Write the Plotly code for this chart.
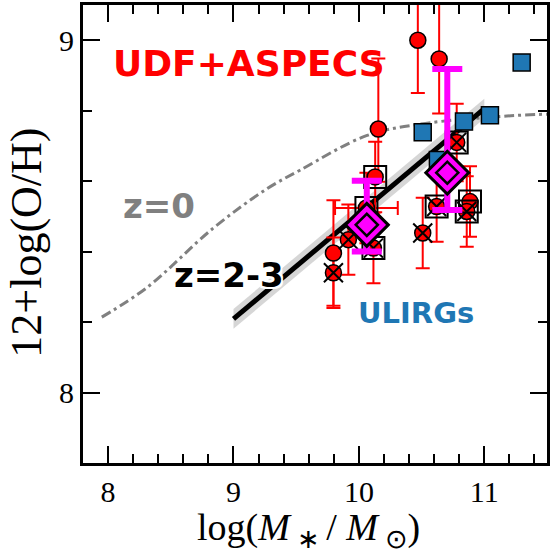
import plotly.graph_objects as go

# ---------------- data ----------------
# red UDF+ASPECS galaxies
red_x = [10.47, 10.64, 10.155, 9.797, 10.13, 10.06, 10.886, 9.916, 9.797, 10.509, 10.116, 10.78, 10.62, 10.86]
red_y = [9.00, 8.947, 8.748, 8.396, 8.612, 8.524, 8.542, 8.434, 8.340, 8.453, 8.410, 8.710, 8.528, 8.514]
red_err_up = [0.16, 0.16, 0.20, 0.15, 0.10, 0.10, 0.10, 0.10, 0.10, 0.10, 0.10, 0.11, 0.10, 0.10]
red_err_lo = [0.15, 0.155, 0.15, 0.15, 0.10, 0.10, 0.10, 0.10, 0.10, 0.10, 0.10, 0.11, 0.10, 0.10]
red_xerr = [0, 0, 0, 0, 0, 0.25, 0, 0, 0, 0, 0, 0, 0, 0]
boxed = [False, False, False, False, True, True, True, False, False, False, True, True, True, True]
crossed = [False, False, False, False, False, False, False, True, True, True, True, True, True, True]

# ULIRGs
ulirg_x = [11.298, 11.045, 10.838, 10.509, 10.63]
ulirg_y = [8.937, 8.787, 8.769, 8.739, 8.66]

# stacked (magenta diamonds)
stack_x = [10.063, 10.705]
stack_y = [8.476, 8.624]
stack_up = [0.125, 0.294]
stack_lo = [0.076, 0.106]

# z=0 relation
z0_x = [7.95, 8.31, 8.84, 9.27, 9.53, 10.06, 10.49, 11.18, 11.5]
z0_y = [8.214, 8.298, 8.467, 8.579, 8.631, 8.729, 8.762, 8.785, 8.79]

# z=2-3 relation (end points of the black line) and its band half-width
z23_x = [9.0, 11.0]
z23_y = [8.209, 8.806]
z23_band = 0.028

# ---------------- figure ----------------
fig = go.Figure()

# gray band for z=2-3
fig.add_trace(go.Scatter(x=z23_x, y=[v - z23_band for v in z23_y], mode="lines",
                         line=dict(width=0, color="rgba(0,0,0,0)"), showlegend=False, hoverinfo="skip"))
fig.add_trace(go.Scatter(x=z23_x, y=[v + z23_band for v in z23_y], mode="lines",
                         line=dict(width=0, color="rgba(0,0,0,0)"), fill="tonexty",
                         fillcolor="rgba(200,200,200,0.75)", showlegend=False, hoverinfo="skip"))

# z=0 curve
fig.add_trace(go.Scatter(x=z0_x, y=z0_y, mode="lines",
                         line=dict(color="#808080", width=3, dash="10px,4px,3px,4px", shape="spline"),
                         showlegend=False, hoverinfo="skip"))

# z=2-3 line
fig.add_trace(go.Scatter(x=z23_x, y=z23_y, mode="lines",
                         line=dict(color="black", width=5), showlegend=False, hoverinfo="skip"))

# red galaxies with error bars
fig.add_trace(go.Scatter(
    x=red_x, y=red_y, mode="markers",
    marker=dict(symbol="circle", size=16, color="#ff0000", line=dict(color="black", width=1.5)),
    error_y=dict(type="data", symmetric=False, array=red_err_up, arrayminus=red_err_lo,
                 color="#ff0000", thickness=2, width=7),
    error_x=dict(type="data", array=red_xerr, color="#ff0000", thickness=2, width=7),
    showlegend=False))

# open boxes
bx = [x for x, b in zip(red_x, boxed) if b]
by = [y for y, b in zip(red_y, boxed) if b]
fig.add_trace(go.Scatter(x=bx, y=by, mode="markers",
                         marker=dict(symbol="square-open", size=22, color="black", line=dict(color="black", width=2)),
                         showlegend=False))

# crosses
cx = [x for x, c in zip(red_x, crossed) if c]
cy = [y for y, c in zip(red_y, crossed) if c]
fig.add_trace(go.Scatter(x=cx, y=cy, mode="markers",
                         marker=dict(symbol="x-thin", size=19, line=dict(color="black", width=2)),
                         showlegend=False))

# ULIRGs
fig.add_trace(go.Scatter(x=ulirg_x, y=ulirg_y, mode="markers",
                         marker=dict(symbol="square", size=17, color="#1f77b4", line=dict(color="black", width=1.5)),
                         showlegend=False))

# stacked diamonds
fig.add_trace(go.Scatter(
    x=stack_x, y=stack_y, mode="markers",
    marker=dict(symbol="diamond", size=33, color="#ff00ff", line=dict(color="black", width=3)),
    error_y=dict(type="data", symmetric=False, array=stack_up, arrayminus=stack_lo,
                 color="#ff00ff", thickness=6, width=15),
    showlegend=False))
fig.add_trace(go.Scatter(x=stack_x, y=stack_y, mode="markers",
                         marker=dict(symbol="diamond", size=17, color="#ff00ff", line=dict(color="black", width=2.5)),
                         showlegend=False))

bold = dict(family="DejaVu Sans", weight="bold")
fig.add_annotation(x=9.125, y=8.935, text="UDF+ASPECS", showarrow=False,
                   font=dict(size=36, color="#ff0000", **bold))
fig.add_annotation(x=8.409, y=8.530, text="z=0", showarrow=False,
                   font=dict(size=34, color="#808080", **bold))
fig.add_annotation(x=8.966, y=8.334, text="z=2-3", showarrow=False,
                   font=dict(size=34, color="black",
                             shadow="2px 2px 0px white, -2px -2px 0px white, 2px -2px 0px white, -2px 2px 0px white",
                             **bold))
fig.add_annotation(x=10.456, y=8.227, text="ULIRGs", showarrow=False,
                   font=dict(size=29, color="#1f77b4", **bold))

serif = "Liberation Serif"
fig.add_annotation(xref="paper", yref="paper", x=-0.122, y=0.482, text="12+log(O/H)",
                   xanchor="center", yanchor="middle",
                   textangle=-90, showarrow=False, font=dict(family=serif, size=44, color="black"))
fig.add_annotation(xref="paper", yref="paper", x=0.486, y=-0.146,
                   xanchor="center", yanchor="middle",
                   text="log(<i>M</i><sub> ∗ </sub>/ <i>M</i><sub> ⊙</sub>)",
                   showarrow=False, font=dict(family=serif, size=38, color="black"))

axis_common = dict(
    showgrid=False, zeroline=False, showline=True, linecolor="black", linewidth=3,
    mirror="allticks", ticks="inside", ticklen=17, tickwidth=2, tickcolor="black",
    tickfont=dict(family=serif, size=30, color="black"),
    minor=dict(ticks="inside", ticklen=9, tickwidth=1.5, tickcolor="black", dtick=0.2, showgrid=False),
)
fig.update_xaxes(range=[7.8, 11.5], tickvals=[8, 9, 10, 11], **axis_common)
fig.update_yaxes(range=[7.8, 9.1], tickvals=[8, 9], **axis_common)

fig.update_layout(width=559, height=553, margin=dict(l=83, r=12, t=2, b=90),
                  plot_bgcolor="white", paper_bgcolor="white", showlegend=False)

fig.write_html("out.html")
